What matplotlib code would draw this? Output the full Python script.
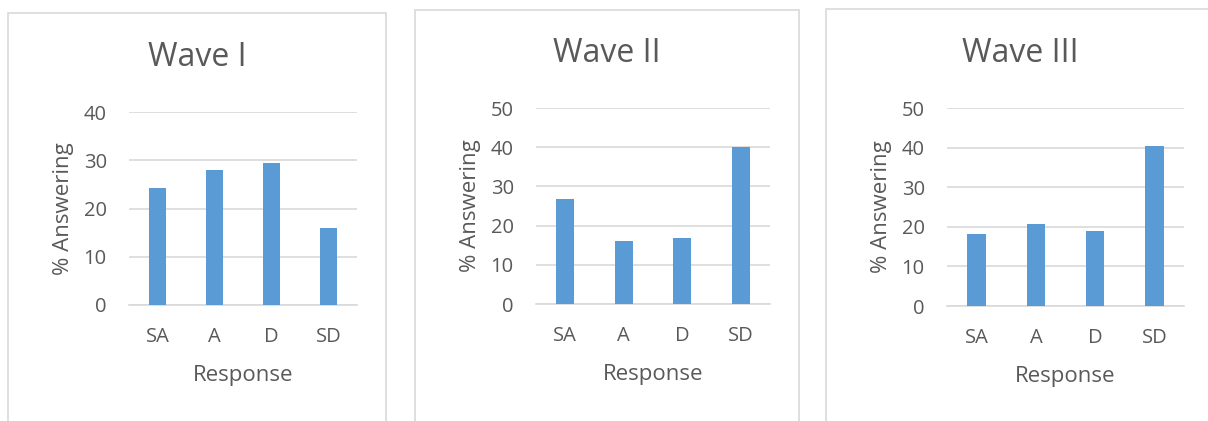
import matplotlib
matplotlib.use("Agg")
import matplotlib.pyplot as plt
from matplotlib.patches import Rectangle

plt.rcParams['font.family'] = ['Open Sans', 'DejaVu Sans']

categories = ["SA", "A", "D", "SD"]
wave1 = [24.3, 27.9, 29.5, 15.9]
wave2 = [26.7, 16.0, 16.9, 40.0]
wave3 = [18.1, 20.6, 19.0, 40.4]
titles = ["Wave I", "Wave II", "Wave III"]
ymaxes = [40, 50, 50]

W, H = 1208, 421
bar_color = "#5b9bd5"
grid_color = "#d9d9d9"
text_color = "#595959"

fig = plt.figure(figsize=(W / 100, H / 100), dpi=100)
fig.patch.set_facecolor("white")

# panel boxes (left, top, right) in pixels, plot area (x0, x1, ytop, ybottom)
panels = [(8, 13, 386), (415, 10, 799), (826, 9, 1240)]
plots = [(129, 357, 112, 305), (536, 770, 108, 304), (947, 1184, 108, 306)]
title_pos = [(197, 58), (607, 53), (1020, 53)]

def fx(x):
    return x / W

def fy(y):
    return 1 - y / H

for i, data in enumerate([wave1, wave2, wave3]):
    pl, pt, pr = panels[i]
    fig.patches.append(Rectangle((fx(pl), fy(H + 20)), fx(pr - pl), (H + 20 - pt) / H,
                                 transform=fig.transFigure, fill=False,
                                 edgecolor=grid_color, linewidth=1.2, zorder=0))
    x0, x1, yt, yb = plots[i]
    ax = fig.add_axes([fx(x0), fy(yb), fx(x1 - x0), (yb - yt) / H])
    ax.bar(range(len(categories)), data, width=0.31, color=bar_color, zorder=3)
    ax.set_xlim(-0.5, len(categories) - 0.5)
    ax.set_ylim(0, ymaxes[i])
    ax.set_yticks(range(0, ymaxes[i] + 1, 10))
    ax.set_xticks(range(len(categories)))
    ax.set_xticklabels(categories)
    ax.yaxis.grid(True, color=grid_color, linewidth=1.2, zorder=0)
    ax.set_axisbelow(True)
    for s in ["top", "right", "left"]:
        ax.spines[s].set_visible(False)
    ax.spines["bottom"].set_color(grid_color)
    ax.spines["bottom"].set_linewidth(1.2)
    ax.tick_params(length=0, labelsize=14.5, colors=text_color)
    ax.tick_params(axis="y", pad=16)
    ax.tick_params(axis="x", pad=16)
    ax.set_facecolor("none")
    ax.set_xlabel("Response", fontsize=16, color=text_color, labelpad=13)
    ax.set_ylabel("% Answering", fontsize=16, color=text_color, labelpad=7)
    tx, ty = title_pos[i]
    fig.text(fx(tx), fy(ty), titles[i], fontsize=23, color=text_color,
             ha="center", va="center")

fig.savefig("out.png", dpi=100)
